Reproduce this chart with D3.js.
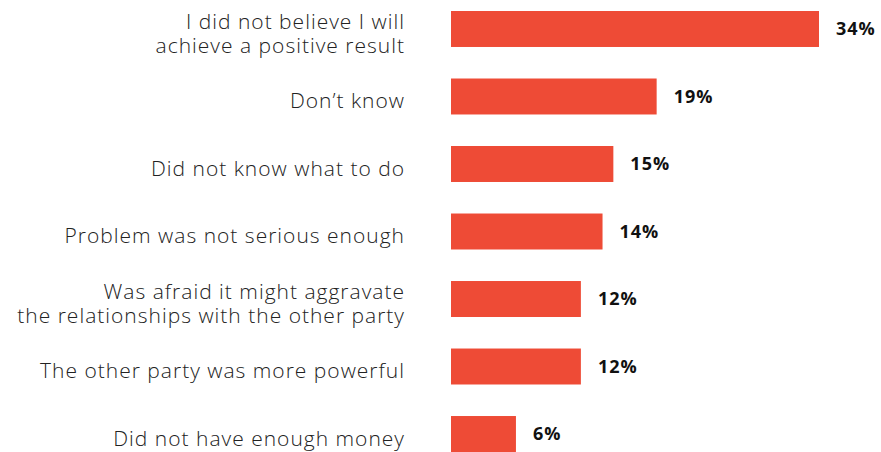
<!DOCTYPE html>
<html><head><meta charset="utf-8">
<script src="https://cdn.jsdelivr.net/npm/d3@7"></script>
<style>body{margin:0;background:#fff}</style>
</head><body>
<svg id="c" width="881" height="452"></svg>
<script>
const categories = [
  ["I did not believe I will", "achieve a positive result"],
  ["Don’t know"],
  ["Did not know what to do"],
  ["Problem was not serious enough"],
  ["Was afraid it might aggravate", "the relationships with the other party"],
  ["The other party was more powerful"],
  ["Did not have enough money"]
];
const values = [34, 19, 15, 14, 12, 12, 6];
const valueLabels = ["34%", "19%", "15%", "14%", "12%", "12%", "6%"];

const svg = d3.select("#c");
const ids = categories.map((d, i) => i);
const y = d3.scaleBand().domain(ids).range([-4.75, 467.75]).paddingInner(0.467).paddingOuter(0.2333);
const x = d3.scaleLinear().domain([0, 34]).range([451, 819]);
const color = "#EE4B36";

svg.selectAll("rect.bar").data(values).join("rect")
  .attr("class", "bar")
  .attr("x", x(0))
  .attr("y", (d, i) => y(i))
  .attr("width", d => x(d) - x(0))
  .attr("height", y.bandwidth())
  .attr("fill", color);

svg.selectAll("text.val").data(values).join("text")
  .attr("class", "val")
  .attr("x", d => x(d) + 17)
  .attr("y", (d, i) => y(i) + y.bandwidth() / 2)
  .attr("dy", "0.36em")
  .attr("font-family", "'Open Sans', sans-serif")
  .attr("font-weight", 700)
  .attr("font-size", 18)
  .attr("letter-spacing", 1)
  .attr("fill", "#111")
  .text((d, i) => valueLabels[i]);

const lab = svg.selectAll("text.lab").data(categories).join("text")
  .attr("class", "lab")
  .attr("text-anchor", "end")
  .attr("font-family", "'Open Sans', sans-serif")
  .attr("font-weight", 300)
  .attr("font-size", 21)
  .attr("letter-spacing", 1)
  .attr("fill", "#222");
lab.each(function(lines, i) {
  const t = d3.select(this);
  const cy = y(i) + y.bandwidth() / 2 + 4;
  const lh = 24;
  lines.forEach((ln, j) => {
    t.append("tspan")
      .attr("x", 405)
      .attr("y", cy + (j - (lines.length - 1) / 2) * lh)
      .attr("dy", "0.36em")
      .text(ln);
  });
});
</script>
</body></html>
